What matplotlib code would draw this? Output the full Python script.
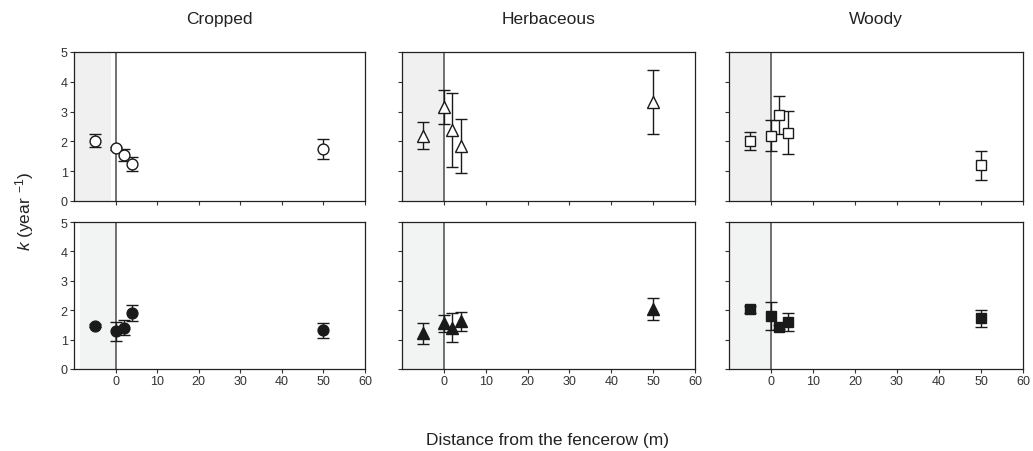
import numpy as np
import matplotlib
matplotlib.use("Agg")
import matplotlib.pyplot as plt

plt.rcParams["font.family"] = ["Liberation Sans", "DejaVu Sans"]
plt.rcParams["mathtext.fontset"] = "custom"
plt.rcParams["mathtext.rm"] = "Liberation Sans"
plt.rcParams["mathtext.it"] = "Liberation Sans:italic"

habitats = ["Cropped", "Herbaceous", "Woody"]
distance = [-5, 0, 2, 4, 50]

# top row (open symbols)
k_top = {
    "Cropped": [2.02, 1.77, 1.54, 1.24, 1.74],
    "Herbaceous": [2.19, 3.14, 2.38, 1.85, 3.33],
    "Woody": [2.02, 2.19, 2.89, 2.29, 1.20],
}
err_top = {
    "Cropped": [0.22, 0.05, 0.20, 0.22, 0.34],
    "Herbaceous": [0.45, 0.57, 1.25, 0.90, 1.08],
    "Woody": [0.30, 0.52, 0.63, 0.72, 0.48],
}
# bottom row (filled symbols)
k_bot = {
    "Cropped": [1.47, 1.28, 1.41, 1.89, 1.32],
    "Herbaceous": [1.21, 1.55, 1.41, 1.62, 2.03],
    "Woody": [2.03, 1.81, 1.43, 1.60, 1.72],
}
err_bot = {
    "Cropped": [0.05, 0.32, 0.27, 0.27, 0.26],
    "Herbaceous": [0.36, 0.30, 0.49, 0.32, 0.38],
    "Woody": [0.12, 0.48, 0.08, 0.30, 0.30],
}

markers = {"Cropped": "o", "Herbaceous": "^", "Woody": "s"}
msize = {"Cropped": 7.8, "Herbaceous": 8.3, "Woody": 7.5}

fig = plt.figure(figsize=(10.33, 4.52), dpi=100)

lefts = [74, 402, 729]
widths = [291, 293, 294]
rows = [(53, 202), (223, 370)]
W, H = 1033, 452

# shaded zone extents per panel (row, col)
shade = {(0, 0): (-10, -1), (1, 0): (-8.5, 0)}

for r, (ytop, ybot) in enumerate(rows):
    for c, hab in enumerate(habitats):
        ax = fig.add_axes([lefts[c] / W, 1 - ybot / H, widths[c] / W, (ybot - ytop) / H])
        x0, x1 = shade.get((r, c), (-10, 0))
        ax.axvspan(x0, x1, color="#f0f0f0" if r == 0 else "#f2f3f3", lw=0, zorder=0)
        ax.axvline(0, color="#707070", lw=1.4, zorder=1)

        if r == 0:
            y, e = k_top[hab], err_top[hab]
            mfc = "white"
        else:
            y, e = k_bot[hab], err_bot[hab]
            mfc = "#1a1a1a"
        ax.errorbar(distance, y, yerr=e, fmt=markers[hab], ms=msize[hab],
                    mfc=mfc, mec="#1a1a1a", mew=1.0, ecolor="#1a1a1a",
                    elinewidth=1.0, capsize=4, capthick=1.5, zorder=3)

        ax.set_xlim(-10, 60)
        ax.set_ylim(0, 5)
        ax.set_xticks(range(0, 61, 10))
        ax.set_yticks(range(0, 6))
        ax.tick_params(direction="out", length=3, width=0.8, labelsize=9,
                       colors="#333333", pad=1.5)
        for s in ax.spines.values():
            s.set_linewidth(0.9)
            s.set_color("#222222")
        if c != 0:
            ax.set_yticklabels([])
        if r == 0:
            ax.set_xticklabels([])
            ax.text(0.5, 1 + 33 / (ybot - ytop), hab, transform=ax.transAxes,
                    ha="center", va="center", fontsize=12.5, color="#222222")

fig.text(25 / W, 1 - 211 / H, r"$k$ (year $^{-1}$)", rotation=90,
         ha="center", va="center", fontsize=12.5, color="#222222")
fig.text(548 / W, 1 - 441 / H, "Distance from the fencerow (m)",
         ha="center", va="center", fontsize=12.5, color="#222222")

fig.savefig("out.png", dpi=100)
